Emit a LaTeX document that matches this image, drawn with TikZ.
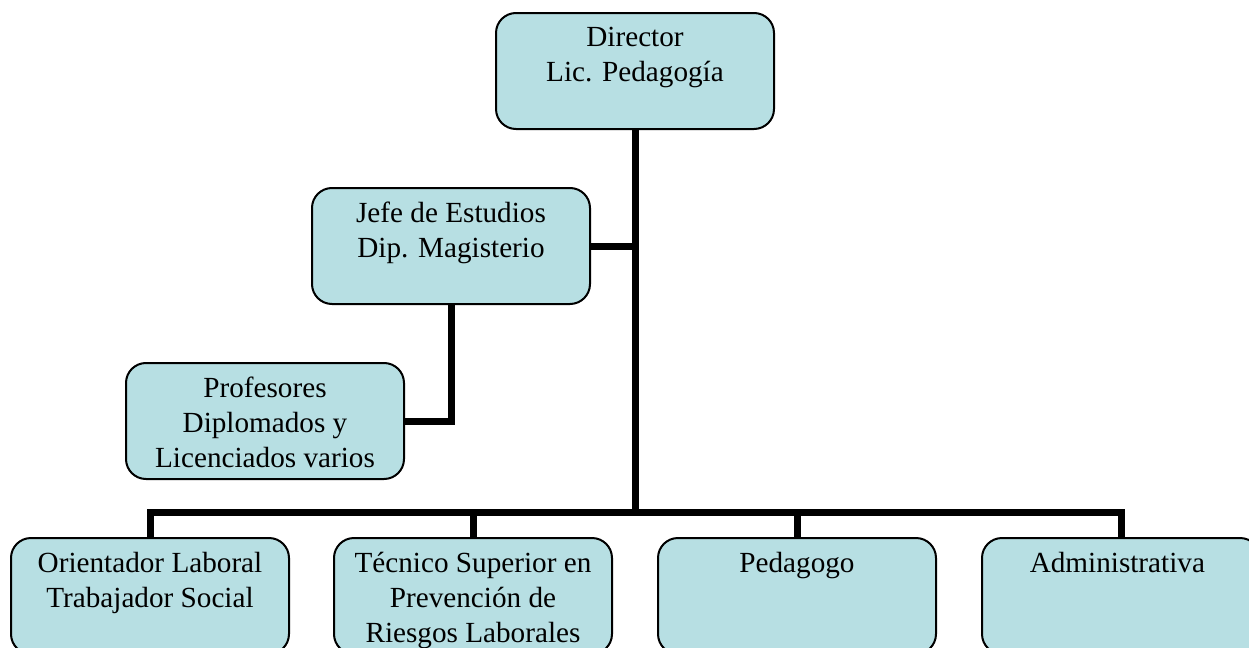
\documentclass[tikz,border=0pt]{standalone}
\usepackage{fontspec}
\setmainfont{Liberation Serif}
\usetikzlibrary{calc}
\definecolor{boxblue}{HTML}{B7DFE3}
\newcommand*{\OrgBoxes}[1]{% #1 = list of name/x/y/text, x and y = top left corner
  \foreach \n/\x/\y/\t in {#1} {
    \node [orgbox, anchor=north west] (\n) at (\x,\y) {};
    \node [orgtext, anchor=north] (\n-t) at ($(\n.north)+(0,15)$) {\t};
    }%
}

\begin{document}
\begin{tikzpicture}[x=0.5pt, y=-0.5pt,
    orgbox/.style={draw=black, fill=boxblue, line width=1pt, rounded corners=10pt,
      minimum width=139pt, minimum height=58pt, inner sep=0pt},
    orgtext/.style={align=center, inner sep=0pt,
      font=\fontsize{14.6pt}{17.5pt}\selectfont},
    link/.style={line width=3.5pt, draw=black}]
    \clip (0,0) rectangle (1249,648);

    \OrgBoxes{
        dir/495/12/{Director\\Lic. Pedagogía},
        jefe/311/187/{Jefe de Estudios\\Dip. Magisterio},
        prof/125/362/{Profesores\\Diplomados y\\Licenciados varios},
        orient/10/537/{Orientador Laboral\\Trabajador Social},
        tec/333/537/{Técnico Superior en\\Prevención de\\Riesgos Laborales},
        ped/657/537/{Pedagogo},
        admin/981/537/{Administrativa}
    }

    \coordinate (bus) at (633,512);
    \draw[link] (dir.south) -- (dir.south |- bus);
    \draw[link] (jefe.east) -- (jefe.east -| dir.south);
    \draw[link] (jefe.south) |- (prof.east);
    \draw[link] (orient.north) -- (orient.north |- bus) -- (admin.north |- bus) -- (admin.north);
    \draw[link] (tec.north) -- (tec.north |- bus);
    \draw[link] (ped.north) -- (ped.north |- bus);
\end{tikzpicture}
\end{document}
